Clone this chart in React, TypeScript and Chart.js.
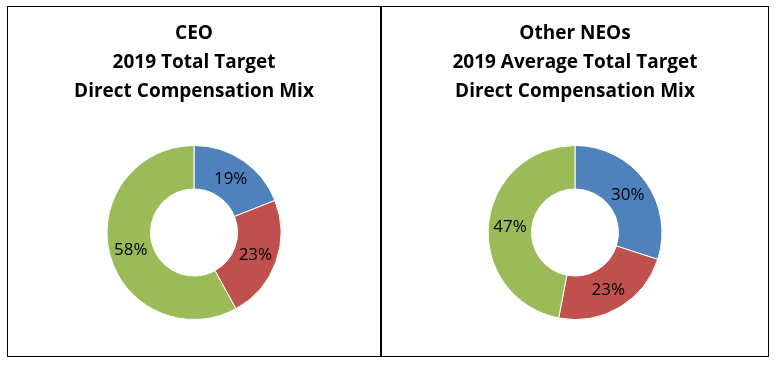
import React, { useEffect, useRef } from "react";
import { Chart, registerables } from "chart.js";

Chart.register(...registerables);

const categories = ["Base Salary", "Annual Incentive", "Long-Term Incentive"];
const ceoValues = [19, 23, 58];
const neoValues = [30, 23, 47];
const ceoTitle = ["CEO", "2019 Total Target", "Direct Compensation Mix"];
const neoTitle = ["Other NEOs", "2019 Average Total Target", "Direct Compensation Mix"];
const colors = ["#4F81BD", "#C0504D", "#9BBB59"];

const labelPlugin = {
  id: "arcLabels",
  afterDatasetsDraw(chart: any) {
    const ctx = chart.ctx;
    const meta = chart.getDatasetMeta(0);
    const data = chart.data.datasets[0].data;
    ctx.save();
    ctx.font = "17px 'Open Sans'";
    ctx.fillStyle = "#000";
    ctx.textAlign = "center";
    ctx.textBaseline = "middle";
    meta.data.forEach((arc: any, i: number) => {
      const p = arc.tooltipPosition(true);
      ctx.fillText(`${data[i]}%`, p.x, p.y + 1);
    });
    ctx.restore();
  },
};

function Donut({ title, values, width, height }: { title: string[]; values: number[]; width: number; height: number }) {
  const ref = useRef<HTMLCanvasElement | null>(null);
  useEffect(() => {
    if (!ref.current) return;
    const chart = new Chart(ref.current, {
      type: "doughnut",
      data: {
        labels: categories,
        datasets: [
          {
            data: values,
            backgroundColor: colors,
            borderColor: "#ffffff",
            borderWidth: 1,
          },
        ],
      },
      options: {
        responsive: false,
        animation: false,
        cutout: "50%",
        layout: { padding: { top: 0, bottom: 36, left: 0, right: 0 } },
        plugins: {
          legend: { display: false },
          tooltip: { enabled: false },
          title: {
            display: true,
            text: title,
            color: "#000",
            font: { family: "'Open Sans'", size: 19, weight: "bold", lineHeight: "29px" as any },
            padding: { top: 12, bottom: 39 },
          },
        },
      },
      plugins: [labelPlugin],
    });
    return () => chart.destroy();
  }, []);
  return <canvas ref={ref} width={width} height={height} style={{ display: "block", width, height }} />;
}

export default function App() {
  const panel: React.CSSProperties = {
    position: "absolute",
    top: 6,
    height: 351,
    boxSizing: "border-box",
    border: "1px solid #000",
    background: "#fff",
  };
  return (
    <div style={{ position: "absolute", left: 0, top: 0, width: 777, height: 365, background: "#fff" }}>
      <div style={{ ...panel, left: 7, width: 374 }}>
        <Donut title={ceoTitle} values={ceoValues} width={372} height={349} />
      </div>
      <div style={{ ...panel, left: 381, width: 388 }}>
        <Donut title={neoTitle} values={neoValues} width={386} height={349} />
      </div>
    </div>
  );
}
